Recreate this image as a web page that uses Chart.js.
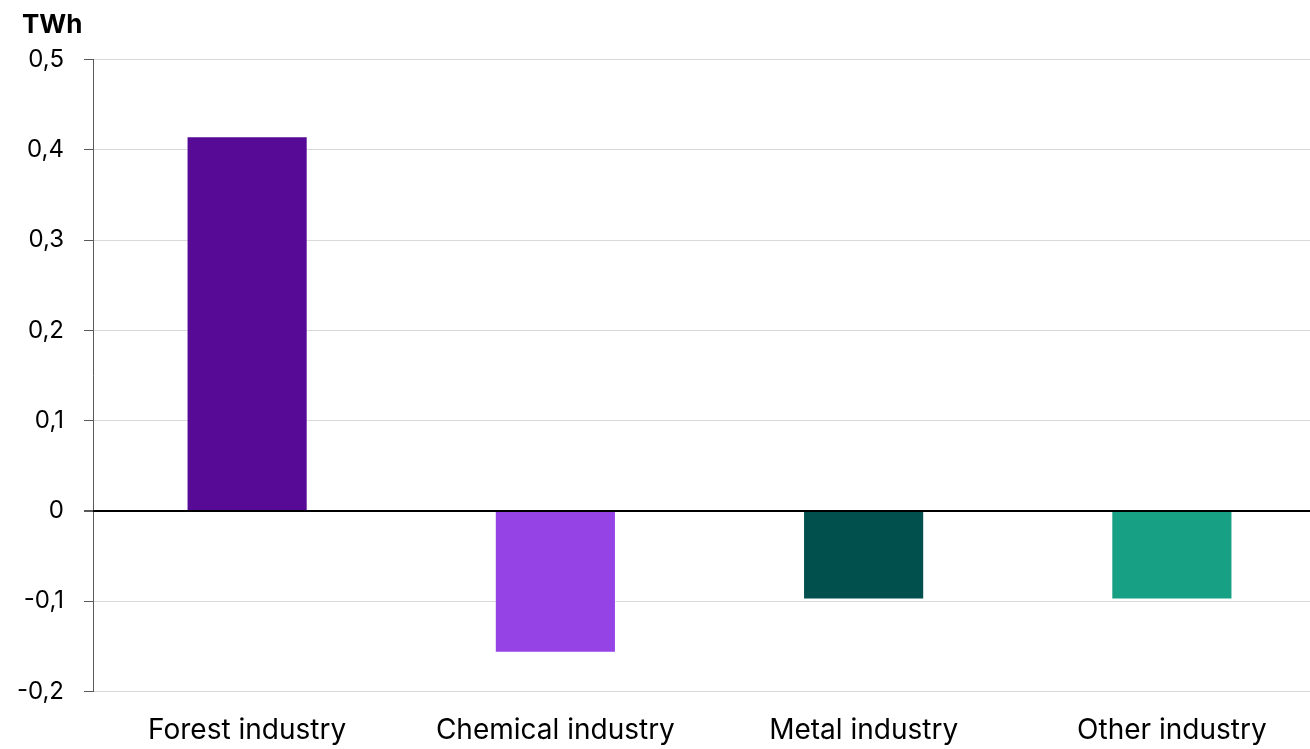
<!DOCTYPE html>
<html>
<head>
<meta charset="utf-8">
<script src="https://cdn.jsdelivr.net/npm/chart.js@4.4.1/dist/chart.umd.min.js"></script>
<style>
  html, body { margin: 0; padding: 0; background: #ffffff; overflow: hidden; }
  #wrap { position: relative; width: 1326px; height: 749px; }
</style>
</head>
<body>
<div id="wrap"><canvas id="chart"></canvas></div>
<script>
// Change in electricity use by industry branch (TWh)
const categories = ['Forest industry', 'Chemical industry', 'Metal industry', 'Other industry'];
const values = [0.415, -0.157, -0.098, -0.098];
const barColors = ['#560a96', '#9643e6', '#02504e', '#17a083'];
const unitLabel = 'TWh';
const yMin = -0.2, yMax = 0.5, yStep = 0.1;

const FONT = 'Inter, "Open Sans", "Liberation Sans", sans-serif';
const isZero = (c) => c.tick && Math.abs(c.tick.value) < 1e-9;

// Unit label in the upper left corner
const unitPlugin = {
  id: 'unitLabel',
  afterDraw(chart) {
    const ctx = chart.ctx;
    ctx.save();
    ctx.font = 'bold 26px ' + FONT;
    ctx.fillStyle = '#000000';
    ctx.textBaseline = 'middle';
    ctx.textAlign = 'left';
    ctx.fillText(unitLabel, 22, 25);
    ctx.restore();
  }
};

// Zero line drawn above the bars
const zeroLinePlugin = {
  id: 'zeroLine',
  afterDatasetsDraw(chart) {
    const y = chart.scales.y.getPixelForValue(0);
    const { left, right } = chart.chartArea;
    const ctx = chart.ctx;
    ctx.save();
    ctx.strokeStyle = '#000000';
    ctx.lineWidth = 2;
    ctx.beginPath();
    ctx.moveTo(left, y);
    ctx.lineTo(right, y);
    ctx.stroke();
    ctx.restore();
  }
};

new Chart(document.getElementById('chart'), {
  type: 'bar',
  data: {
    labels: categories,
    datasets: [{
      data: values,
      backgroundColor: barColors,
      borderColor: 'rgba(255,255,255,0.45)',
      borderWidth: 1,
      barPercentage: 1,
      categoryPercentage: 0.393
    }]
  },
  options: {
    responsive: true,
    maintainAspectRatio: false,
    animation: false,
    layout: { padding: { top: 59.5, left: 0, right: 0, bottom: 0 } },
    plugins: {
      legend: { display: false },
      tooltip: { enabled: false }
    },
    scales: {
      x: {
        grid: { display: false },
        border: { display: false },
        ticks: {
          color: '#000000',
          font: { family: FONT, size: 28 },
          padding: 14,
          maxRotation: 0
        },
        afterFit(scale) { scale.height = 57.5; }
      },
      y: {
        min: yMin,
        max: yMax,
        border: { display: true, color: '#595959', width: 1 },
        grid: {
          color: (c) => (isZero(c) ? '#000000' : '#d9d9d9'),
          lineWidth: (c) => (isZero(c) ? 2 : 1),
          tickColor: '#595959',
          tickLength: 9,
          drawTicks: true
        },
        ticks: {
          stepSize: yStep,
          color: '#000000',
          font: { family: FONT, size: 24 },
          padding: 20,
          callback: (v) => {
            const r = Math.round(v * 10) / 10;
            return r === 0 ? '0' : r.toFixed(1).replace('.', ',');
          }
        },
        afterFit(scale) { scale.width = 93; }
      }
    }
  },
  plugins: [unitPlugin, zeroLinePlugin]
});
</script>
</body>
</html>
